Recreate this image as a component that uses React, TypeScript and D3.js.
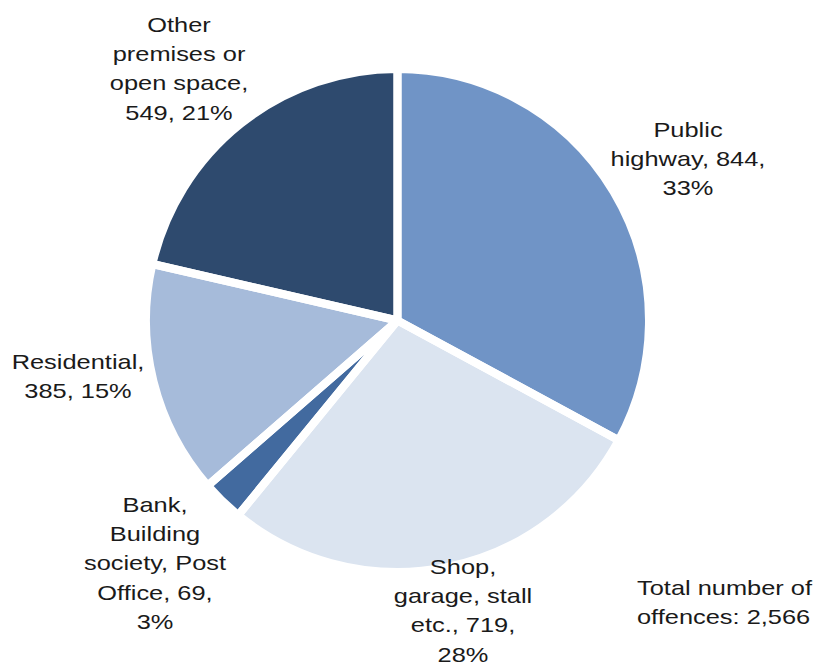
import React from "react";
import * as d3 from "d3";

const categories = [
  "Public highway",
  "Shop, garage, stall etc.",
  "Bank, Building society, Post Office",
  "Residential",
  "Other premises or open space",
];
const values = [844, 719, 69, 385, 549];
const colors = ["#7094c6", "#dbe4f0", "#426a9f", "#a6bbda", "#2e4a6e"];
// wrapped label text lines ({v} = value, {p} = percent)
const labelLines = [
  ["Public", "highway, {v},", "{p}%"],
  ["Shop,", "garage, stall", "etc., {v},", "{p}%"],
  ["Bank,", "Building", "society, Post", "Office, {v},", "{p}%"],
  ["Residential,", "{v}, {p}%"],
  ["Other", "premises or", "open space,", "{v}, {p}%"],
];
const totalLines = ["Total number of", "offences: {t}"];

// layout (label anchor: centre x, first baseline y)
const labelPos = [
  { x: 688, y: 137 },
  { x: 463, y: 574 },
  { x: 155, y: 512 },
  { x: 78, y: 369 },
  { x: 179, y: 32 },
];

const W = 820;
const H = 663;
const cx = 397.5;
const cy = 320.5;
const R = 251.5;
const LH = 29.2;
const FS = 21;
const SX = 1.21;

export default function App() {
  const total = d3.sum(values);
  const pie = d3
    .pie<number>()
    .sort(null)
    .startAngle(0)
    .endAngle(2 * Math.PI)
    .value((d) => d);
  const arcs = pie(values);
  const arc = d3.arc<d3.PieArcDatum<number>>().innerRadius(0).outerRadius(R);
  const fmt = d3.format(",");

  const fill = (s: string, i: number) =>
    s
      .replace("{v}", fmt(values[i]))
      .replace("{p}", String(Math.round((values[i] / total) * 100)));

  return (
    <svg
      width={W}
      height={H}
      style={{ position: "absolute", left: 0, top: 0, background: "#fff" }}
      fontFamily="'Liberation Sans', Arial, sans-serif"
    >
      <g transform={`translate(${cx},${cy})`}>
        {arcs.map((a, i) => (
          <path key={"f" + i} d={arc(a) || ""} fill={colors[i]} />
        ))}
        {arcs.map((a, i) => (
          <path
            key={"s" + i}
            d={arc(a) || ""}
            fill="none"
            stroke="#fff"
            strokeWidth={8}
            strokeLinejoin="round"
          />
        ))}
      </g>
      {labelLines.map((lines, i) => (
        <g
          key={"l" + i}
          transform={`translate(${labelPos[i].x},${labelPos[i].y}) scale(${SX},1)`}
        >
          {lines.map((ln, j) => (
            <text
              key={j}
              x={0}
              y={j * LH}
              textAnchor="middle"
              fontSize={FS}
              fill="#1a1a1a"
            >
              {fill(ln, i)}
            </text>
          ))}
        </g>
      ))}
      <g transform={`translate(637,595) scale(${SX},1)`}>
        {totalLines.map((ln, j) => (
          <text key={j} x={0} y={j * LH} fontSize={FS} fill="#1a1a1a">
            {ln.replace("{t}", fmt(total))}
          </text>
        ))}
      </g>
    </svg>
  );
}
